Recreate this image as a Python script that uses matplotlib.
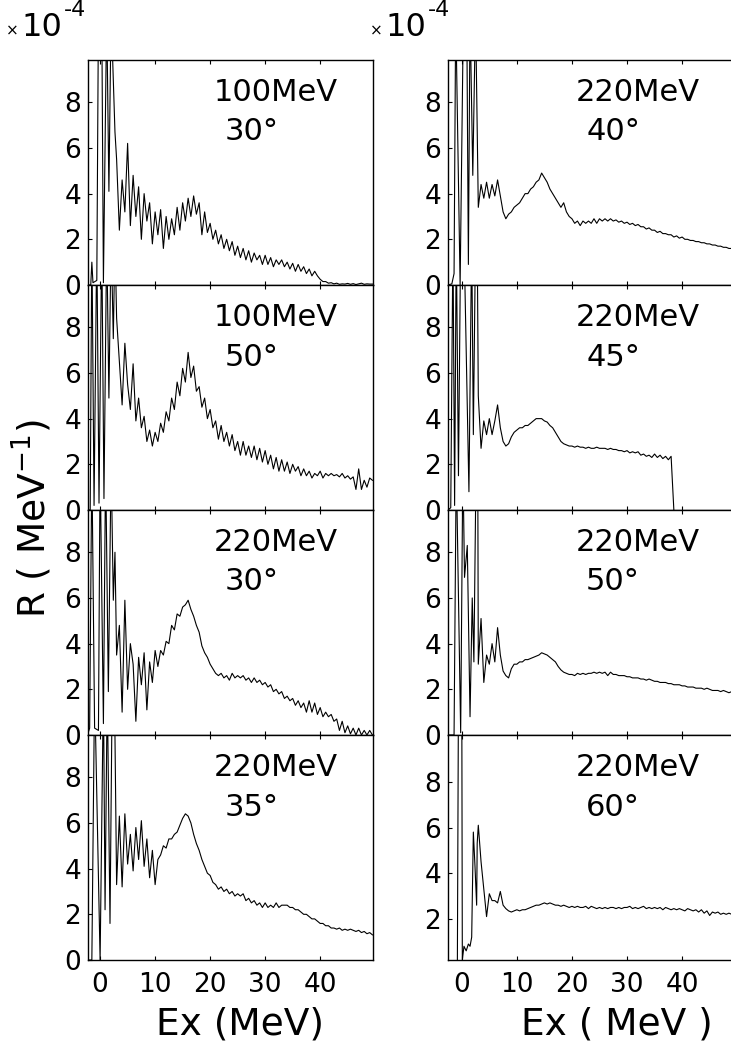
import numpy as np
import matplotlib.pyplot as plt

plt.rcParams['font.family'] = ['DejaVu Sans']

# ---- data: R in units of 1e-4 MeV^-1, Ex in MeV ----
# common channel energies for the continuum part (3.0 .. 49.5 MeV)
ex_grid = [3.0, 3.5, 4.0, 4.5, 5.0, 5.5, 6.0, 6.5, 7.0, 7.5,
           8.0, 8.5, 9.0, 9.5, 10.0, 10.5, 11.0, 11.5, 12.0, 12.5,
           13.0, 13.5, 14.0, 14.5, 15.0, 15.5, 16.0, 16.5, 17.0, 17.5,
           18.0, 18.5, 19.0, 19.5, 20.0, 20.5, 21.0, 21.5, 22.0, 22.5,
           23.0, 23.5, 24.0, 24.5, 25.0, 25.5, 26.0, 26.5, 27.0, 27.5,
           28.0, 28.5, 29.0, 29.5, 30.0, 30.5, 31.0, 31.5, 32.0, 32.5,
           33.0, 33.5, 34.0, 34.5, 35.0, 35.5, 36.0, 36.5, 37.0, 37.5,
           38.0, 38.5, 39.0, 39.5, 40.0, 40.5, 41.0, 41.5, 42.0, 42.5,
           43.0, 43.5, 44.0, 44.5, 45.0, 45.5, 46.0, 46.5, 47.0, 47.5,
           48.0, 48.5, 49.0, 49.5]

# low-lying region (elastic + discrete states, mostly off scale)
ex_low_100_30 = [-2.3, -1.7, -1.5, -1.3, -0.6, -0.3, 0.3, 0.6, 1.2, 1.6, 2.0, 2.7]
r_low_100_30 = [0, 0, 1.0, 0.1, 0.2, 12, 12, 0.1, 12, 4.1, 12, 6.7]
r_100_30 = [5.5, 2.4, 4.6, 3.2, 6.2, 2.6, 4.8, 3.0, 4.3, 2.0,
            4.0, 2.8, 3.6, 1.8, 3.2, 2.2, 3.3, 1.6, 3.0, 2.0,
            2.9, 2.2, 3.4, 2.4, 3.6, 2.8, 3.8, 3.0, 3.9, 3.1,
            3.6, 2.2, 3.2, 2.3, 2.7, 2.0, 2.4, 1.8, 2.2, 1.6,
            2.0, 1.5, 1.9, 1.3, 1.7, 1.2, 1.6, 1.1, 1.5, 1.0,
            1.4, 1.1, 1.3, 0.9, 1.3, 0.9, 1.2, 0.8, 1.1, 0.9,
            1.1, 0.8, 1.0, 0.7, 0.95, 0.6, 0.9, 0.6, 0.8, 0.5,
            0.7, 0.4, 0.6, 0.4, 0.25, 0.15, 0.15, 0.08, 0.1, 0.05,
            0.08, 0.03, 0.05, 0.04, 0.07, 0.03, 0.06, 0.02, 0.05, 0.08,
            0.03, 0.05, 0.04, 0.04]

ex_low_100_50 = [-2.3, -1.8, -1.5, -1.1, -0.6, -0.2, 0.3, 0.7, 1.2, 1.6, 2.0, 2.4, 2.7]
r_low_100_50 = [0, 0, 12, 0.2, 12, 0.3, 12, 0.5, 12, 4.9, 12, 7.5, 12]
r_100_50 = [8.4, 6.5, 4.6, 7.3, 5.5, 4.4, 6.4, 3.9, 4.9, 3.6,
            4.1, 3.0, 3.5, 2.8, 3.4, 3.0, 3.8, 3.4, 4.3, 3.9,
            4.9, 4.4, 5.6, 5.0, 6.2, 5.6, 6.9, 5.8, 6.3, 5.2,
            5.4, 4.5, 4.9, 4.0, 4.4, 3.6, 3.9, 3.1, 3.7, 3.0,
            3.4, 2.8, 3.3, 2.6, 3.0, 2.4, 3.0, 2.4, 2.8, 2.3,
            2.8, 2.2, 2.7, 2.1, 2.6, 2.0, 2.4, 1.8, 2.3, 1.7,
            2.2, 1.7, 2.1, 1.6, 2.0, 1.7, 1.9, 1.5, 1.8, 1.5,
            1.7, 1.4, 1.6, 1.5, 1.7, 1.4, 1.6, 1.5, 1.6, 1.5,
            1.55, 1.45, 1.6, 1.4, 1.5, 1.35, 1.45, 0.9, 1.8, 0.9,
            1.3, 1.0, 1.4, 1.3]

ex_low_220_30 = [-2.3, -1.9, -1.5, -1.0, -0.3, 0.0, 0.6, 1.0, 1.5, 2.0, 2.4, 2.7]
r_low_220_30 = [0, 0.3, 12, 0.3, 0.2, 12, 0.5, 12, 1.9, 12, 5.9, 8.0]
r_220_30 = [3.5, 4.8, 1.0, 5.9, 2.0, 4.0, 3.1, 0.6, 3.4, 2.2,
            3.6, 1.1, 3.2, 2.3, 3.7, 3.0, 3.7, 3.5, 4.1, 4.0,
            4.8, 4.6, 5.3, 5.2, 5.6, 5.7, 5.9, 5.5, 5.2, 4.8,
            4.5, 3.9, 3.6, 3.4, 3.1, 2.9, 2.7, 2.6, 2.7, 2.5,
            2.6, 2.4, 2.7, 2.5, 2.6, 2.5, 2.6, 2.4, 2.5, 2.3,
            2.5, 2.3, 2.4, 2.2, 2.3, 2.1, 2.2, 1.9, 2.0, 1.8,
            1.9, 1.6, 1.7, 1.5, 1.6, 1.3, 1.5, 1.2, 1.4, 1.0,
            1.5, 1.0, 1.4, 0.9, 1.2, 0.8, 1.0, 0.8, 0.9, 0.6,
            0.7, 0.2, 0.6, 0.1, 0.4, 0.05, 0.3, 0.0, 0.3, 0.0,
            0.2, 0.0, 0.2, 0.0]

ex_low_220_35 = [-2.3, -1.5, -1.0, 0.0, 0.6, 0.9, 1.3, 1.8, 2.2, 2.6]
r_low_220_35 = [0, 0, 12, 0, 12, 2.2, 12, 1.6, 12, 12]
r_220_35 = [3.3, 6.3, 3.2, 6.4, 4.2, 5.5, 3.9, 5.8, 4.4, 6.1,
            4.1, 5.3, 3.6, 4.8, 3.3, 4.4, 4.6, 5.0, 4.9, 5.3,
            5.3, 5.5, 5.6, 5.9, 6.2, 6.4, 6.3, 6.0, 5.5, 5.1,
            4.8, 4.4, 4.1, 3.8, 3.7, 3.4, 3.3, 3.1, 3.2, 3.0,
            3.1, 2.9, 3.0, 2.8, 2.9, 2.8, 2.9, 2.6, 2.7, 2.5,
            2.6, 2.4, 2.5, 2.3, 2.5, 2.3, 2.4, 2.3, 2.5, 2.3,
            2.4, 2.4, 2.4, 2.3, 2.3, 2.2, 2.2, 2.1, 2.0, 2.0,
            1.9, 1.8, 1.8, 1.7, 1.6, 1.6, 1.5, 1.5, 1.4, 1.4,
            1.35, 1.4, 1.3, 1.35, 1.3, 1.35, 1.3, 1.25, 1.3, 1.2,
            1.25, 1.15, 1.2, 1.1]

ex_low_220_40 = [-2.5, -1.8, -1.4, -1.1, -0.3, 0.3, 0.9, 1.2, 1.5, 2.0, 2.5]
r_low_220_40 = [0, 0.05, 0.5, 12, 0.0, 12, 12, 0.9, 12, 4.8, 12]
r_220_40 = [3.4, 4.4, 3.8, 4.5, 3.8, 4.4, 3.9, 4.6, 3.9, 3.2,
            2.9, 3.1, 3.2, 3.4, 3.5, 3.6, 3.8, 4.0, 4.0, 4.2,
            4.3, 4.5, 4.6, 4.9, 4.7, 4.5, 4.2, 4.0, 3.8, 3.6,
            3.4, 3.6, 3.2, 3.0, 2.9, 2.7, 2.8, 2.6, 2.8, 2.7,
            2.8, 2.7, 2.9, 2.7, 2.9, 2.8, 2.9, 2.8, 2.9, 2.8,
            2.85, 2.75, 2.8, 2.7, 2.75, 2.65, 2.7, 2.6, 2.65, 2.55,
            2.55, 2.45, 2.5, 2.4, 2.4, 2.3, 2.35, 2.25, 2.25, 2.2,
            2.2, 2.1, 2.15, 2.05, 2.1, 2.0, 2.0, 1.95, 1.95, 1.9,
            1.9, 1.85, 1.85, 1.8, 1.8, 1.75, 1.75, 1.7, 1.7, 1.65,
            1.65, 1.6, 1.6, 1.55]

ex_low_220_45 = [-2.5, -2.0, -1.6, -1.3, -1.0, -0.6, -0.2, 0.4, 1.3, 1.8, 2.1, 2.5, 2.8]
r_low_220_45 = [0, 0.1, 12, 0.2, 12, 1.5, 12, 12, 0.8, 12, 3.3, 12, 12]
r_220_45 = [5.0, 2.7, 3.9, 3.3, 4.0, 3.3, 3.9, 4.6, 3.6, 3.0,
            2.8, 2.9, 3.2, 3.4, 3.5, 3.6, 3.6, 3.7, 3.7, 3.8,
            3.9, 4.0, 4.0, 4.0, 3.9, 3.85, 3.7, 3.6, 3.4, 3.2,
            3.0, 2.9, 2.85, 2.8, 2.8, 2.75, 2.8, 2.75, 2.75, 2.7,
            2.75, 2.7, 2.7, 2.75, 2.7, 2.7, 2.7, 2.65, 2.7, 2.65,
            2.65, 2.6, 2.6, 2.55, 2.6, 2.5, 2.55, 2.5, 2.55, 2.4,
            2.45, 2.35, 2.4, 2.3, 2.45, 2.3, 2.4, 2.25, 2.35, 2.2,
            2.35, 0.0]

ex_low_220_50 = [-2.5, -1.4, -1.0, -0.2, 0.2, 0.5, 1.0, 1.5, 1.9, 2.2, 2.6, 2.9]
r_low_220_50 = [0, 0, 12, 0.1, 12, 6.9, 8.3, 0.8, 6.0, 3.2, 12, 12]
r_220_50 = [3.1, 5.1, 2.3, 3.5, 3.1, 4.0, 3.2, 4.7, 3.5, 2.8,
            2.6, 2.5, 2.9, 3.1, 3.1, 3.2, 3.2, 3.3, 3.3, 3.35,
            3.4, 3.45, 3.5, 3.6, 3.55, 3.5, 3.4, 3.3, 3.2, 3.0,
            2.85, 2.75, 2.7, 2.65, 2.65, 2.6, 2.7, 2.65, 2.7, 2.65,
            2.7, 2.7, 2.75, 2.7, 2.75, 2.7, 2.75, 2.6, 2.75, 2.65,
            2.65, 2.6, 2.6, 2.6, 2.55, 2.55, 2.5, 2.5, 2.5, 2.45,
            2.45, 2.4, 2.45, 2.4, 2.35, 2.35, 2.3, 2.3, 2.3, 2.25,
            2.25, 2.2, 2.2, 2.2, 2.15, 2.15, 2.1, 2.1, 2.1, 2.05,
            2.05, 2.05, 2.0, 2.05, 2.0, 1.95, 1.95, 1.95, 1.9, 1.95,
            1.9, 1.85, 1.9, 1.85]

ex_low_220_60 = [-2.5, -0.8, -0.6, 0.0, 0.1, 0.4, 0.8, 1.2, 1.5, 1.8, 2.1, 2.4, 2.7, 2.8]
r_low_220_60 = [0, 0, 12, 12, 0.2, 0.8, 0.6, 0.9, 0.8, 1.2, 5.8, 4.3, 2.6, 5.3]
r_220_60 = [6.1, 4.5, 3.3, 2.1, 3.1, 2.8, 2.8, 2.7, 3.2, 2.6,
            2.45, 2.35, 2.3, 2.35, 2.4, 2.35, 2.4, 2.4, 2.45, 2.5,
            2.55, 2.6, 2.6, 2.65, 2.7, 2.65, 2.7, 2.65, 2.6, 2.6,
            2.55, 2.6, 2.55, 2.5, 2.55, 2.5, 2.55, 2.5, 2.5, 2.55,
            2.45, 2.55, 2.5, 2.45, 2.5, 2.45, 2.5, 2.45, 2.5, 2.5,
            2.45, 2.5, 2.45, 2.5, 2.5, 2.55, 2.45, 2.5, 2.45, 2.5,
            2.55, 2.45, 2.5, 2.45, 2.5, 2.45, 2.5, 2.4, 2.5, 2.45,
            2.4, 2.45, 2.4, 2.45, 2.4, 2.35, 2.45, 2.4, 2.35, 2.4,
            2.3, 2.4, 2.25, 2.35, 2.15, 2.3, 2.25, 2.3, 2.2, 2.25,
            2.2, 2.25, 2.2, 2.2]

# panel list: (column, row, low ex, low r, continuum r, beam label, angle label)
panels = [
    (0, 0, ex_low_100_30, r_low_100_30, r_100_30, "100MeV", "30°"),
    (0, 1, ex_low_100_50, r_low_100_50, r_100_50, "100MeV", "50°"),
    (0, 2, ex_low_220_30, r_low_220_30, r_220_30, "220MeV", "30°"),
    (0, 3, ex_low_220_35, r_low_220_35, r_220_35, "220MeV", "35°"),
    (1, 0, ex_low_220_40, r_low_220_40, r_220_40, "220MeV", "40°"),
    (1, 1, ex_low_220_45, r_low_220_45, r_220_45, "220MeV", "45°"),
    (1, 2, ex_low_220_50, r_low_220_50, r_220_50, "220MeV", "50°"),
    (1, 3, ex_low_220_60, r_low_220_60, r_220_60, "220MeV", "60°"),
]

W, H = 731, 1048
fig = plt.figure(figsize=(W / 100, H / 100), dpi=100)

col_left = [88, 448]
col_right = [373, 735]
col_xlim = [(-2.2, 49.6), (-2.5, 49.6)]
top0, ph = 60, 225

for col, row, exl, rl, rc, beam, ang in panels:
    x0 = col_left[col]
    w = col_right[col] - x0
    ytop = top0 + ph * row
    ax = fig.add_axes([x0 / W, 1 - (ytop + ph) / H, w / W, ph / H])

    ex = list(exl) + ex_grid[:len(rc)]
    r = list(rl) + list(rc)
    ax.plot(ex, r, color='black', lw=0.8)

    ax.set_xlim(*col_xlim[col])
    if col == 1 and row == 3:
        ax.set_ylim(0.2, 10.05)
        ax.set_yticks([2, 4, 6, 8])
    else:
        ax.set_ylim(0, 9.85)
        ax.set_yticks([0, 2, 4, 6, 8])
    ax.set_xticks([0, 10, 20, 30, 40])
    ax.tick_params(axis='both', direction='in', length=3, width=0.8,
                   labelsize=19, top=True, pad=5)
    ax.tick_params(axis='x', pad=9)
    if row != 3:
        ax.set_xticklabels([])
    for s in ax.spines.values():
        s.set_linewidth(1.0)

    ax.text(0.66, 0.855, beam, transform=ax.transAxes, fontsize=22,
            ha='center', va='center')
    ax.text(0.575, 0.68, ang, transform=ax.transAxes, fontsize=22,
            ha='center', va='center')

# scale factor labels (x10^-4)
for xs in [6, 370]:
    fig.text(xs / W, 1 - 31 / H, "×", fontsize=11, ha='left', va='center')
    fig.text((xs + 15) / W, 1 - 28 / H, "10", fontsize=23, ha='left', va='center')
    fig.text((xs + 58) / W, 1 - 10 / H, "-4", fontsize=16, ha='left', va='center')

fig.text(32 / W, 1 - 518 / H, r"R ( MeV$^{-1}$)", fontsize=27, rotation=90,
         ha='center', va='center')
fig.text(240 / W, 1 - 1025 / H, "Ex (MeV)", fontsize=27, ha='center', va='center')
fig.text(617 / W, 1 - 1025 / H, "Ex ( MeV )", fontsize=27, ha='center', va='center')

fig.savefig("out.png", dpi=100)
